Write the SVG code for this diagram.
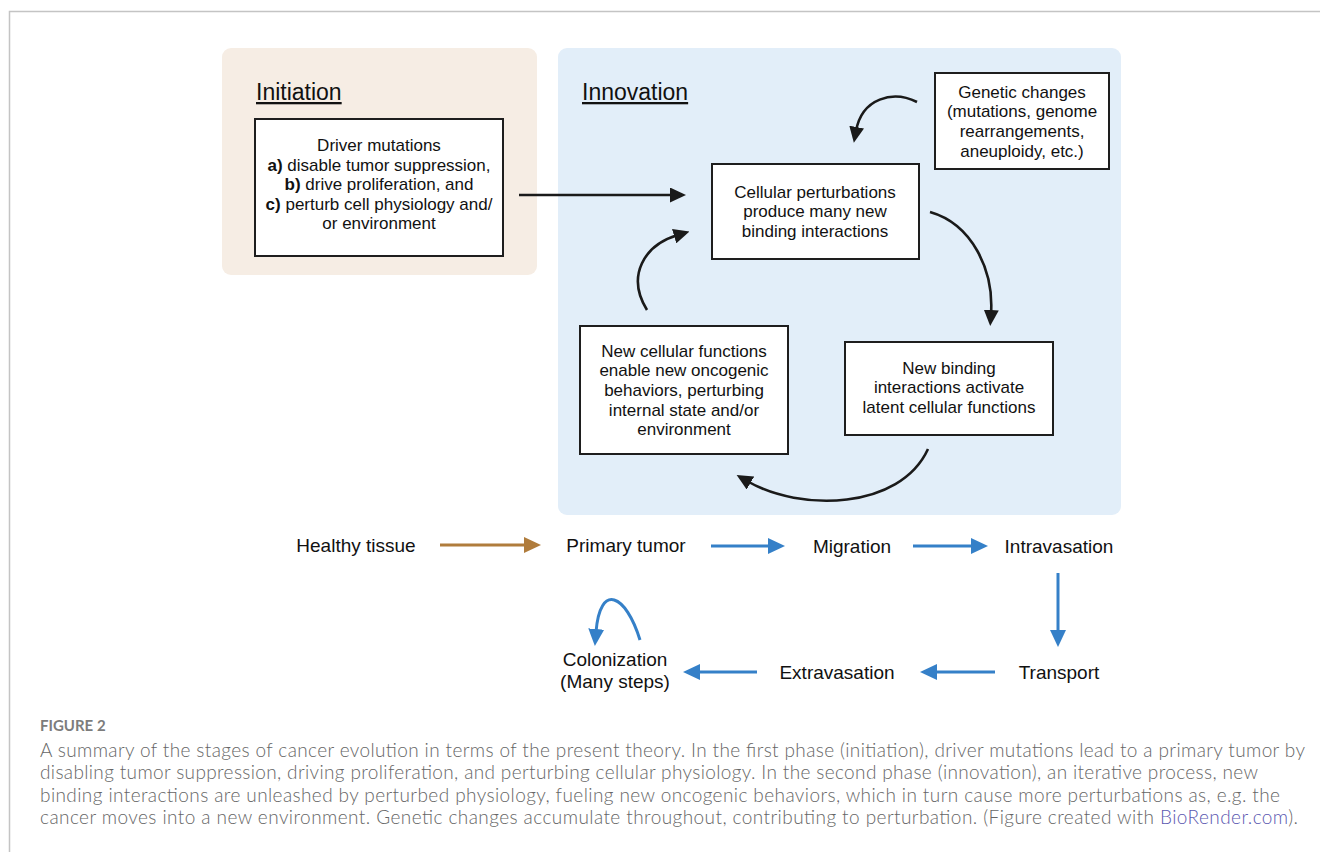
<svg xmlns="http://www.w3.org/2000/svg" width="1320" height="852" viewBox="0 0 1320 852">
<style>
.t{font-family:"Liberation Sans",Arial,sans-serif;fill:#111;}
.box{fill:#fff;stroke:#1e1e1e;stroke-width:2;}
.h{font-size:23px;text-decoration:underline;}
.bt{font-size:17px;text-anchor:middle;}
.lbl{font-size:19px;text-anchor:middle;}
.blk{fill:none;stroke:#1a1a1a;stroke-width:2.6;}
.blu{fill:none;stroke:#3580c8;stroke-width:3;}
.cap{font-family:Lato,"Open Sans",sans-serif;font-size:19px;font-weight:300;fill:#666;}
</style>
<defs>
<marker id="ah" markerUnits="userSpaceOnUse" viewBox="0 0 16 15" markerWidth="16" markerHeight="15" refX="4" refY="7.5" orient="auto"><path d="M0,0 L16,7.5 L0,15 z" fill="#1a1a1a"/></marker>
<marker id="ahb" markerUnits="userSpaceOnUse" viewBox="0 0 17 16" markerWidth="17" markerHeight="16" refX="3" refY="8" orient="auto"><path d="M0,0 L17,8 L0,16 z" fill="#3580c8"/></marker>
<marker id="ahr" markerUnits="userSpaceOnUse" viewBox="0 0 17 16" markerWidth="17" markerHeight="16" refX="3" refY="8" orient="auto"><path d="M0,0 L17,8 L0,16 z" fill="#b07c3c"/></marker>
</defs>
<rect width="1320" height="852" fill="#fff"/>
<path d="M9.5,852 V11.5 H1320" fill="none" stroke="#c4c4c4" stroke-width="1.5"/>

<g id="initiation-panel">
<rect x="222" y="48" width="315" height="227" rx="9" fill="#f6ede4"/>
<text class="t h" x="256" y="100">Initiation</text>
</g>
<g id="innovation-panel">
<rect x="558" y="48" width="563" height="467" rx="9" fill="#e2eef9"/>
<text class="t h" x="582" y="100">Innovation</text>
</g>

<g id="driver-mutations">
<rect class="box" x="255" y="119" width="248" height="137"/>
<text class="t bt" x="379" y="151">Driver mutations</text>
<text class="t bt" x="379" y="171"><tspan font-weight="bold">a)</tspan> disable tumor suppression,</text>
<text class="t bt" x="379" y="190"><tspan font-weight="bold">b)</tspan> drive proliferation, and</text>
<text class="t bt" x="379" y="210"><tspan font-weight="bold">c)</tspan> perturb cell physiology and/</text>
<text class="t bt" x="379" y="229">or environment</text>
</g>

<g id="genetic-changes">
<rect class="box" x="935" y="73" width="174" height="96"/>
<text class="t bt" x="1022" y="98">Genetic changes</text>
<text class="t bt" x="1022" y="117">(mutations, genome</text>
<text class="t bt" x="1022" y="137">rearrangements,</text>
<text class="t bt" x="1022" y="157">aneuploidy, etc.)</text>
</g>

<g id="cellular-perturbations">
<rect class="box" x="712" y="164" width="207" height="95"/>
<text class="t bt" x="815" y="198">Cellular perturbations</text>
<text class="t bt" x="815" y="217">produce many new</text>
<text class="t bt" x="815" y="237">binding interactions</text>
</g>

<g id="new-binding">
<rect class="box" x="845" y="342" width="208" height="93"/>
<text class="t bt" x="949" y="374">New binding</text>
<text class="t bt" x="949" y="393">interactions activate</text>
<text class="t bt" x="949" y="413">latent cellular functions</text>
</g>

<g id="new-cellular-functions">
<rect class="box" x="580" y="326" width="208" height="128"/>
<text class="t bt" x="684" y="357">New cellular functions</text>
<text class="t bt" x="684" y="376">enable new oncogenic</text>
<text class="t bt" x="684" y="396">behaviors, perturbing</text>
<text class="t bt" x="684" y="416">internal state and/or</text>
<text class="t bt" x="684" y="435">environment</text>
</g>

<g id="healthy-tissue"><text class="t lbl" x="356" y="552">Healthy tissue</text></g>
<g id="primary-tumor"><text class="t lbl" x="626" y="552">Primary tumor</text></g>
<g id="migration"><text class="t lbl" x="852" y="553">Migration</text></g>
<g id="intravasation"><text class="t lbl" x="1059" y="553">Intravasation</text></g>
<g id="transport"><text class="t lbl" x="1059" y="679">Transport</text></g>
<g id="extravasation"><text class="t lbl" x="837" y="679">Extravasation</text></g>
<g id="colonization"><text class="t lbl" x="615" y="666">Colonization</text><text class="t lbl" x="615" y="688">(Many steps)</text></g>

<g id="connectors">
<path class="blk" d="M519,195 H674" marker-end="url(#ah)"/>
<path class="blk" d="M917,102 C893,90 862,98 856,131" marker-end="url(#ah)"/>
<path class="blk" d="M930,212 C972,224 994,270 991,314" marker-end="url(#ah)"/>
<path class="blk" d="M928,449 C900,510 800,512 747,481" marker-end="url(#ah)"/>
<path class="blk" d="M647,310 C626,276 644,245 678,235" marker-end="url(#ah)"/>
<path d="M440,545 H527" fill="none" stroke="#b07c3c" stroke-width="3" marker-end="url(#ahr)"/>
<path class="blu" d="M711,546 H771" marker-end="url(#ahb)"/>
<path class="blu" d="M913,546 H974" marker-end="url(#ahb)"/>
<path class="blu" d="M1058,573 V633" marker-end="url(#ahb)"/>
<path class="blu" d="M995,672 H934" marker-end="url(#ahb)"/>
<path class="blu" d="M757,672 H697" marker-end="url(#ahb)"/>
<path class="blu" d="M640,640 C626,594 600,582 596,632" marker-end="url(#ahb)"/>
</g>

<g id="caption">
<text x="40" y="731" font-family="Lato,'Open Sans',sans-serif" font-size="15" font-weight="bold" fill="#7c7c7c">FIGURE 2</text>
<text class="cap" x="40" y="757" textLength="1265" lengthAdjust="spacing">A summary of the stages of cancer evolution in terms of the present theory. In the first phase (initiation), driver mutations lead to a primary tumor by</text>
<text class="cap" x="40" y="779" textLength="1218" lengthAdjust="spacing">disabling tumor suppression, driving proliferation, and perturbing cellular physiology. In the second phase (innovation), an iterative process, new</text>
<text class="cap" x="40" y="802" textLength="1240" lengthAdjust="spacing">binding interactions are unleashed by perturbed physiology, fueling new oncogenic behaviors, which in turn cause more perturbations as, e.g. the</text>
<text class="cap" x="40" y="824" textLength="1258" lengthAdjust="spacing">cancer moves into a new environment. Genetic changes accumulate throughout, contributing to perturbation. (Figure created with <tspan fill="#5b58b0">BioRender.com</tspan>).</text>
</g>
</svg>
